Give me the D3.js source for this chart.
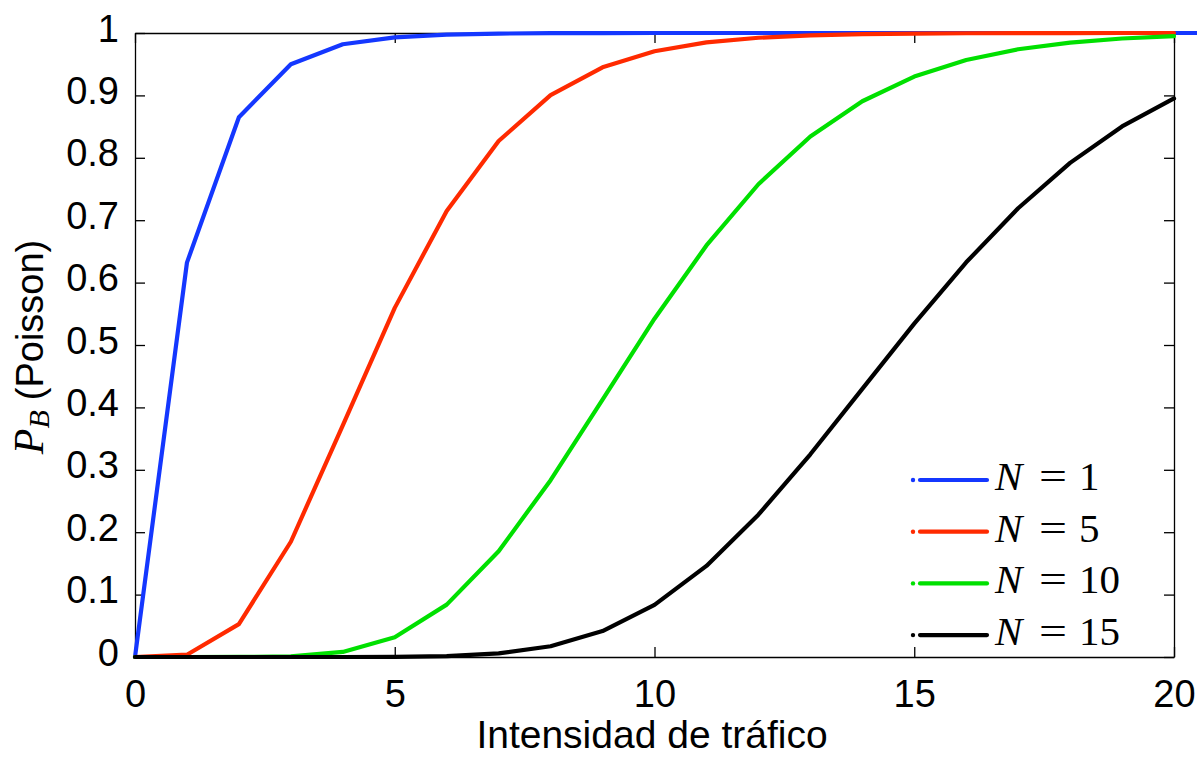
<!DOCTYPE html>
<html><head><meta charset="utf-8">
<script src="https://cdn.jsdelivr.net/npm/d3@7"></script>
<style>body{margin:0;background:#fff}svg{display:block}</style>
</head><body>
<svg id="c" width="1197" height="758"></svg>
<script>
const xs = [0,1,2,3,4,5,6,7,8,9,10,11,12,13,14,15,16,17,18,19,20];
const xsN1 = [0,1,2,3,4,5,6,7,8,9,10,11,12,13,14,15,16,17,18,19,20,21];
const pN1 = [0,0.632,0.865,0.950,0.982,0.993,0.9975,0.9991,0.9997,0.9999,1,1,1,1,1,1,1,1,1,1,1,1];
const pN5 = [0,0.0037,0.0527,0.1847,0.3712,0.5595,0.7149,0.8270,0.9004,0.9450,0.9707,0.9849,0.9924,0.9963,0.9982,0.9991,0.9996,0.9998,0.9999,1,1];
const pN10 = [0,0,0.00005,0.0011,0.0081,0.0318,0.0839,0.1695,0.2834,0.4126,0.5421,0.6595,0.7576,0.8342,0.8906,0.9301,0.9567,0.9739,0.9846,0.9912,0.9950];
const pN15 = [0,0,0,0,0.00001,0.0002,0.0014,0.0057,0.0173,0.0415,0.0835,0.1460,0.2280,0.3249,0.4296,0.5343,0.6325,0.7192,0.7919,0.8503,0.8951];
const seriesNames = ["1","5","10","15"];
const seriesColors = ["#1437ff","#ff2a00","#00e000","#000000"];
const xTicks = [0,5,10,15,20];
const yTicks = [0,0.1,0.2,0.3,0.4,0.5,0.6,0.7,0.8,0.9,1];
const xLabel = "Intensidad de tráfico";

const series = [
  {x: xsN1, y: pN1}, {x: xs, y: pN5}, {x: xs, y: pN10}, {x: xs, y: pN15}
];

const L = 135, R = 1174, T = 33, B = 657;
const svg = d3.select("#c");
const x = d3.scaleLinear().domain([0,20]).range([L,R]);
const y = d3.scaleLinear().domain([0,1]).range([B,T]);

const sans = "'Liberation Sans', Arial, Helvetica, sans-serif";
const serif = "'Liberation Serif', 'Times New Roman', serif";

// axes (inward ticks, box)
const tk = 10;
const gL = svg.append("g").attr("transform",`translate(${L},0)`)
  .call(d3.axisLeft(y).tickValues(yTicks).tickSizeInner(-tk).tickSizeOuter(0).tickPadding(16).tickFormat(d3.format("")));
const gR = svg.append("g").attr("transform",`translate(${R},0)`)
  .call(d3.axisRight(y).tickValues(yTicks).tickSizeInner(-tk).tickSizeOuter(0).tickFormat(""));
const gB = svg.append("g").attr("transform",`translate(0,${B})`)
  .call(d3.axisBottom(x).tickValues(xTicks).tickSizeInner(-tk).tickSizeOuter(0).tickPadding(23));
const gT = svg.append("g").attr("transform",`translate(0,${T})`)
  .call(d3.axisTop(x).tickValues(xTicks).tickSizeInner(-tk).tickSizeOuter(0).tickFormat(""));
[gL,gR,gB,gT].forEach(g=>{
  g.selectAll("path.domain").attr("stroke","#000").attr("stroke-width",1.3);
  g.selectAll(".tick line").attr("stroke","#000").attr("stroke-width",1.3);
  g.selectAll("text").attr("font-family",sans).attr("font-size",38).attr("fill","#000");
});
gB.selectAll("text").attr("dy","0.71em");
gL.selectAll("text").attr("dy","8px");

// lines
const line = d3.line().x(d=>x(d[0])).y(d=>y(d[1]));
series.forEach((s,i)=>{
  const pts = s.x.map((v,j)=>[v,s.y[j]]);
  svg.append("path").datum(pts).attr("d",line)
    .attr("fill","none").attr("stroke",seriesColors[i]).attr("stroke-width",4.2)
    .attr("stroke-linejoin","round").attr("stroke-linecap","round");
});

// legend
const lg = svg.append("g");
seriesNames.forEach((n,i)=>{
  const yy = 480 + i*51.7;
  lg.append("circle").attr("cx",913).attr("cy",yy).attr("r",2.2).attr("fill",seriesColors[i]);
  lg.append("line").attr("x1",920).attr("x2",987).attr("y1",yy).attr("y2",yy)
    .attr("stroke",seriesColors[i]).attr("stroke-width",4.2).attr("stroke-linecap","round");
  lg.append("text").attr("x",995).attr("y",yy+10).attr("font-family",serif).attr("font-style","italic")
    .attr("font-size",41).attr("fill","#000").text("N");
  lg.append("text").attr("x",1039).attr("y",yy+10).attr("font-family",serif)
    .attr("font-size",41).attr("fill","#000").attr("textLength",28).attr("lengthAdjust","spacingAndGlyphs").text("=");
  lg.append("text").attr("x",1079).attr("y",yy+10).attr("font-family",serif)
    .attr("font-size",41).attr("fill","#000").text(n);
});

// x label
svg.append("text").attr("x",652).attr("y",748).attr("text-anchor","middle")
  .attr("font-family",sans).attr("font-size",39).attr("fill","#000").text(xLabel);

// y label
const yl = svg.append("text").attr("transform","translate(43,347) rotate(-90)").attr("text-anchor","middle")
  .attr("font-size",38).attr("fill","#000");
yl.append("tspan").attr("font-family",serif).attr("font-style","italic").attr("font-size",42).text("P");
yl.append("tspan").attr("font-family",serif).attr("font-style","italic").attr("font-size",30).attr("dy",6).text("B");
yl.append("tspan").attr("font-family",sans).attr("dy",-6).attr("dx",10).text("(Poisson)");
</script>
</body></html>
